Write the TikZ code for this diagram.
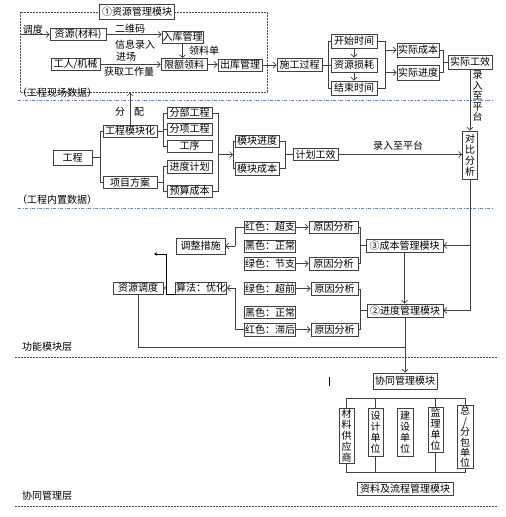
\documentclass[tikz,border=0pt]{standalone}
\usepackage{fontspec}
\setmainfont{Noto Sans CJK SC}
\usetikzlibrary{arrows.meta,backgrounds}
\definecolor{blueln}{RGB}{95,135,185}
\begin{document}
\begin{tikzpicture}[x=1pt,y=-1pt,
 bx/.style={draw=black!75,line width=0.7pt,fill=white,inner sep=0.5pt,font=\fontsize{10}{11}\selectfont},
 wh/.style 2 args={minimum width=#1pt,minimum height=#2pt},
 vt/.style={align=center,inner sep=0pt},
 lbl/.style={inner sep=0pt,font=\fontsize{10}{11}\selectfont},
 ln/.style={draw=black!75,line width=0.7pt},
 ar/.style={ln,-{Straight Barb[length=3pt,width=6pt]}},
 ar2/.style={ln,{Straight Barb[length=3pt,width=6pt]}-{Straight Barb[length=3pt,width=6pt]}},
 bl/.style={draw=blueln,line width=0.6pt,dash pattern=on 3pt off 1.5pt on 1pt off 1.5pt},
 kd/.style={draw=black!70,line width=0.6pt,dash pattern=on 2pt off 1pt}]
\useasboundingbox (0,0) rectangle (506,517);
\fill[white] (0,0) rectangle (506,517);

% layer separators
\draw[kd] (20,12) rectangle (267,92);
\draw[bl] (18,100) -- (492,100);
\draw[bl] (18,208) -- (492,208);
\draw[kd] (15,357) -- (498,357);
\draw[kd] (15,506) -- (498,506);

% ---------- site data ----------
\node[bx,wh={75}{15}] (title) at (137,12) {①资源管理模块};
\node[bx,wh={56}{12}] (zy) at (78,34.5) {资源(材料)};
\node[bx,wh={41}{12}] (rk) at (182.5,37) {入库管理};
\node[bx,wh={49}{12}] (gr) at (75.5,64.5) {工人/机械};
\node[bx,wh={46}{12}] (xe) at (184,64.5) {限额领料};
\node[bx,wh={44}{12}] (ck) at (240,65) {出库管理};
\node[bx,wh={45}{13}] (sg) at (299.5,65) {施工过程};
\node[bx,wh={46}{14}] (ks) at (354,41) {开始时间};
\node[bx,wh={46}{14}] (zs) at (354,65) {资源损耗};
\node[bx,wh={46}{14}] (js) at (354,88) {结束时间};
\node[bx,wh={42}{14}] (sjcb) at (418,50) {实际成本};
\node[bx,wh={42}{15}] (sjjd) at (418,72.5) {实际进度};
\node[bx,wh={44}{14}] (sjgx) at (470,62) {实际工效};

\node[lbl] at (33,30) {调度};
\node[lbl] at (130,29) {二维码};
\node[lbl] at (135,45) {信息录入};
\node[lbl] at (126,57) {进场};
\node[lbl] at (129,72) {获取工作量};
\node[lbl] at (204,51) {领料单};
\node[lbl,anchor=west] at (17,93) {（工程现场数据）};

\coordinate (dl) at (20,34.5);
\draw[ar] (dl) -- (zy.west);
\draw[ar] (zy.east) -- (zy.east -| rk.west);
\draw[ar] (rk.south) -- (rk.south |- xe.north);
\draw[ar] (gr.east) -- (gr.east -| xe.west);
\draw[ar] (xe.east) -- (xe.east -| ck.west);
\draw[ar] (ck.east) -- (ck.east -| sg.west);
\coordinate (b1) at (328,41);
\coordinate (b2) at (328,88);
\draw[ln] (ks.west) -- (b1) -- (b2) -- (js.west);
\draw[ln] (sg.east) -- (zs.west);
\draw[ar] (ks.south) -- (zs.north);
\draw[ar] (zs.south) -- (js.north);
\coordinate (b3) at (385,41);
\coordinate (b4) at (385,88);
\coordinate (b5) at (385,50);
\coordinate (b6) at (385,72.5);
\draw[ln] (ks.east) -- (b3) -- (b4) -- (js.east);
\draw[ar] (b5) -- (sjcb.west);
\draw[ar] (b6) -- (sjjd.west);
\coordinate (b7) at (443,50);
\coordinate (b8) at (443,72.5);
\coordinate (b9) at (443,62);
\draw[ln] (sjcb.east) -- (b7) -- (b8) -- (sjjd.east);
\draw[ln] (b9) -- (sjgx.west);

% ---------- built-in data ----------
\node[bx,wh={39}{15}] (gc) at (72.5,157.5) {工程};
\node[bx,wh={54}{12}] (gcmk) at (130,131) {工程模块化};
\node[bx,wh={54}{12}] (xmfa) at (130,182.5) {项目方案};
\node[bx,wh={45}{11}] (fb) at (189.5,113) {分部工程};
\node[bx,wh={45}{12}] (fx) at (189.5,129) {分项工程};
\node[bx,wh={45}{12}] (gx) at (189.5,146) {工序};
\node[bx,wh={45}{13}] (jdjh) at (189.5,166.5) {进度计划};
\node[bx,wh={45}{12}] (yscb) at (189.5,191) {预算成本};
\node[bx,wh={44}{12}] (mkjd) at (257,141) {模块进度};
\node[bx,wh={44}{13}] (mkcb) at (257,168.5) {模块成本};
\node[bx,wh={45}{12}] (jhgx) at (315.5,154.5) {计划工效};
\node[bx,wh={15}{48},vt] (db) at (470,155) {对\\比\\分\\析};

\node[lbl] at (120,112) {分};
\node[lbl] at (139,112) {配};
\node[lbl] at (398,146) {录入至平台};
\node[lbl,vt,font=\fontsize{10}{10.5}\selectfont] at (477.5,96) {录\\入\\至\\平\\台};
\node[lbl,anchor=west] at (17,200) {（工程内置数据）};

\coordinate (up) at (130,92.5);
\draw[ar] (gcmk.north) -- (up);
\draw[ar] (sjgx.south) -- (db.north);
\coordinate (c1) at (100,157.5);
\coordinate (c2) at (100,131);
\coordinate (c3) at (100,182.5);
\draw[ln] (gc.east) -- (c1);
\draw[ln] (gcmk.west) -- (c2) -- (c3) -- (xmfa.west);
\coordinate (c4) at (163,131);
\coordinate (c5) at (163,113);
\coordinate (c6) at (163,146);
\coordinate (c7) at (163,129);
\draw[ln] (gcmk.east) -- (c4);
\draw[ln] (fb.west) -- (c5) -- (c6) -- (gx.west);
\draw[ln] (fx.west) -- (c7);
\coordinate (c8) at (163,182.5);
\coordinate (c9) at (163,166.5);
\coordinate (c10) at (163,191);
\draw[ln] (xmfa.east) -- (c8);
\draw[ln] (jdjh.west) -- (c9) -- (c10) -- (yscb.west);
\coordinate (d1) at (218,113);
\coordinate (d2) at (218,191);
\coordinate (d3) at (218,154.5);
\coordinate (d4) at (233,154.5);
\draw[ln] (fb.east) -- (d1) -- (d2) -- (yscb.east);
\draw[ar] (d3) -- (d4);
\coordinate (d5) at (233,141);
\coordinate (d6) at (233,168.5);
\draw[ln] (mkjd.west) -- (d5) -- (d6) -- (mkcb.west);
\coordinate (d7) at (285,141);
\coordinate (d8) at (285,168.5);
\coordinate (d9) at (285,154.5);
\draw[ln] (mkjd.east) -- (d7) -- (d8) -- (mkcb.east);
\draw[ln] (d9) -- (jhgx.west);
\draw[ar] (jhgx.east) -- (jhgx.east -| db.west);

% ---------- function modules ----------
\node[bx,wh={49}{16}] (tzcs) at (200.5,246) {调整措施};
\node[bx,wh={50}{12}] (r1) at (270,227) {红色：超支};
\node[bx,wh={50}{12}] (k1) at (270,246) {黑色：正常};
\node[bx,wh={50}{13}] (g1) at (270,263.5) {绿色：节支};
\node[bx,wh={49}{12}] (ya1) at (333.5,227) {原因分析};
\node[bx,wh={49}{13}] (ya2) at (333.5,263.5) {原因分析};
\node[bx,wh={50}{12}] (g2) at (270,288.5) {绿色：超前};
\node[bx,wh={50}{12}] (k2) at (270,312.5) {黑色：正常};
\node[bx,wh={50}{13}] (r2) at (270,329.5) {红色：滞后};
\node[bx,wh={47}{13}] (ya3) at (334.5,289) {原因分析};
\node[bx,wh={47}{13}] (ya4) at (334.5,329.5) {原因分析};
\node[bx,wh={50}{12}] (sf) at (201,288) {算法：优化};
\node[bx,wh={50}{12}] (zydd) at (138,288) {资源调度};
\node[bx,wh={77}{13}] (cbgl) at (404.5,245.5) {③成本管理模块};
\node[bx,wh={76}{13}] (jdgl) at (405,310.5) {②进度管理模块};
\node[lbl,anchor=west] at (22,347) {功能模块层};

\coordinate (e1) at (235,227);
\coordinate (e2) at (235,246);
\draw[ln] (r1.west) -- (e1) -- (e2);
\draw[ar] (e2) -- (tzcs.east);
\draw[ar] (r1.east) -- (ya1.west);
\draw[ar] (g1.east) -- (ya2.west);
\coordinate (e3) at (360,227);
\coordinate (e4) at (360,263.5);
\coordinate (e5) at (360,245.5);
\draw[ln] (ya1.east) -- (e3) -- (e4) -- (ya2.east);
\draw[ln] (e5) -- (cbgl.west);
\coordinate (f1) at (235,329.5);
\coordinate (f2) at (235,288);
\draw[ln] (r2.west) -- (f1) -- (f2);
\draw[ar] (f2) -- (sf.east);
\draw[ar] (g2.east) -- (g2.east -| ya3.west);
\draw[ar] (r2.east) -- (ya4.west);
\coordinate (f3) at (360,289);
\coordinate (f4) at (360,329.5);
\coordinate (f5) at (360,310.5);
\draw[ln] (ya3.east) -- (f3) -- (f4) -- (ya4.east);
\draw[ln] (f5) -- (jdgl.west);
\draw[draw=black!75,line width=0.5pt,double,double distance=1.4pt,-{Implies}] (sf.west) -- (zydd.east);
\coordinate (h1) at (176,294);
\coordinate (h2) at (166,294);
\coordinate (h3) at (166,254);
\coordinate (h4) at (154,254);
\draw[black,line width=1pt,-{Stealth[length=3pt,width=3.5pt]}] (h1) -- (h2) -- (h3) -- (h4);
\draw[ar] (db.south) |- (cbgl.east);
\draw[ar] (db.south) |- (jdgl.east);
\draw[ar] (cbgl.south) -- (cbgl.south |- jdgl.north);

% ---------- collaboration ----------
\node[bx,wh={64}{16}] (xt) at (405,381) {协同管理模块};
\node[bx,wh={96}{13}] (zl) at (405,488.5) {资料及流程管理模块};
\begin{scope}[on background layer]
\draw[ar2] (xt.south) -- (zl.north);
\end{scope}
\node[bx,wh={15}{55},vt] (cl) at (346.5,435.5) {材\\料\\供\\应\\商};
\node[bx,wh={15}{48},vt] (sj) at (375.5,432) {设\\计\\单\\位};
\node[bx,wh={16}{48},vt] (jsdw) at (405,432) {建\\设\\单\\位};
\node[bx,wh={15}{45},vt] (jl) at (435.5,429.5) {监\\理\\单\\位};
\node[bx,wh={16}{63},vt,font=\fontsize{10}{10.4}\selectfont] (zf) at (465,437) {总\\/\\分\\包\\单\\位};
\node[lbl,anchor=west] at (22,496) {协同管理层};

\coordinate (j0) at (138,347);
\coordinate (j1) at (405,347);
\draw[ln] (zydd.south) -- (j0) -- (j1);
\draw[ar] (jdgl.south) -- (xt.north);
\coordinate (t1) at (346.5,398);
\coordinate (t2) at (465,398);
\draw[ln] (cl.north) -- (t1) -- (t2) -- (zf.north);
\draw[ln] (sj.north) -- (sj.north |- t1);
\draw[ln] (jl.north) -- (jl.north |- t1);
\coordinate (u1) at (346.5,472);
\coordinate (u2) at (465,472);
\draw[ln] (cl.south) -- (u1) -- (u2) -- (zf.south);
\draw[ln] (sj.south) -- (sj.south |- u1);
\draw[ln] (jl.south) -- (jl.south |- u1);
\draw[black,line width=0.8pt] (329,377) -- (329,386);
\end{tikzpicture}
\end{document}
